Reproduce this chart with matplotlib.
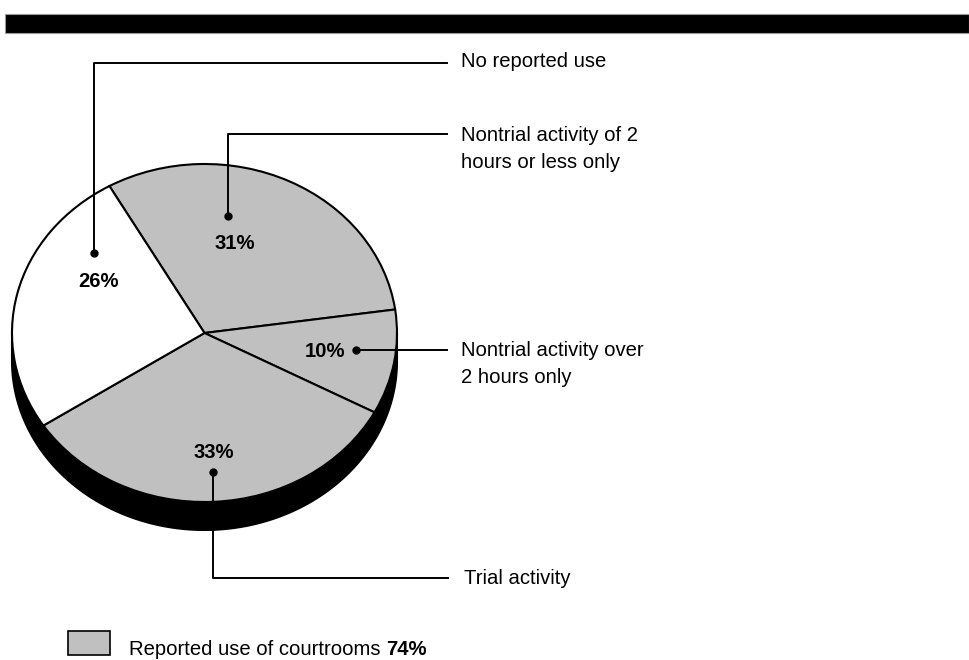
import numpy as np
import matplotlib
matplotlib.use("Agg")
from matplotlib import pyplot as plt
from matplotlib.patches import Polygon, Rectangle

plt.rcParams['font.family'] = ['Liberation Sans', 'DejaVu Sans']

# courtroom use shares, clockwise from the top-left boundary
labels = ["Nontrial activity of 2\nhours or less only",
          "Nontrial activity over\n2 hours only",
          "Trial activity",
          "No reported use"]
shares = [31, 10, 33, 26]
colors = ["#c0c0c0", "#c0c0c0", "#c0c0c0", "#ffffff"]
reported_use = 74

# pixel layout of the pie (top face is an ellipse)
cx, cy, rx, ry = 204.5, 333, 192.5, 169
depth = 28 / ry

W, H = 969, 660
fig = plt.figure(figsize=(W / 100, H / 100), dpi=100)

# pie axes, stretched so the circle turns into a flat ellipse
xl, yl = (-1.05, 1.05), (-1.3, 1.05)
left = cx + xl[0] * rx
bottom = cy - yl[0] * ry
pax = fig.add_axes([left / W, (H - bottom) / H,
                    (xl[1] - xl[0]) * rx / W, (yl[1] - yl[0]) * ry / H])
pax.axis("off")

# black side of the disc
t = np.linspace(np.pi, 2 * np.pi, 200)
side = np.concatenate([np.column_stack([np.cos(t), np.sin(t)]),
                       np.column_stack([np.cos(t[::-1]), np.sin(t[::-1]) - depth])])
pax.add_patch(Polygon(side, closed=True, facecolor="black", edgecolor="black", lw=1.5))

pax.pie(shares, colors=colors, startangle=119.6, counterclock=False,
        wedgeprops=dict(edgecolor="black", linewidth=1.5))
pax.set_aspect("auto")
pax.set_xlim(*xl)
pax.set_ylim(*yl)

# overlay in pixel coordinates for labels and leader lines
ax = fig.add_axes([0, 0, 1, 1])
ax.set_xlim(0, W)
ax.set_ylim(H, 0)
ax.axis("off")

ax.add_patch(Rectangle((5, 14), W - 5, 19, facecolor="black", edgecolor="#999999", lw=0.8))

fs = 14.6
line_h = 26.7
# leader paths: dot -> elbow -> end, and first baseline of the text
leaders = [
    [(228, 216), (228, 134), (447, 134)],
    [(356, 350), (447, 350)],
    [(213, 472), (213, 578), (448, 578)],
    [(94, 253), (94, 63), (447, 63)],
]
text_pos = [(461, 141), (461, 356), (464, 584), (461, 67)]
pct_pos = [(235, 249), (325, 357), (214, 458), (99, 287)]

for path, lab, tp, pp, v in zip(leaders, labels, text_pos, pct_pos, shares):
    xs, ys = zip(*path)
    ax.plot(xs, ys, color="black", lw=1.4)
    ax.plot(xs[0], ys[0], "o", color="black", ms=5)
    for i, line in enumerate(lab.split("\n")):
        ax.text(tp[0], tp[1] + i * line_h, line, fontsize=fs,
                ha="left", va="baseline")
    ax.text(pp[0], pp[1], f"{v}%", fontsize=fs, fontweight="bold",
            ha="center", va="baseline")

# legend for the grey slices
ax.add_patch(Rectangle((68, 631), 42, 24, facecolor="#c0c0c0", edgecolor="black", lw=1.2))
leg = ax.text(129, 655, "Reported use of courtrooms ", fontsize=fs,
              ha="left", va="baseline")
ax.annotate(f"{reported_use}%", xy=(1, 0), xycoords=leg, fontsize=fs,
            fontweight="bold", ha="left", va="bottom")

fig.savefig("out.png", dpi=100)
